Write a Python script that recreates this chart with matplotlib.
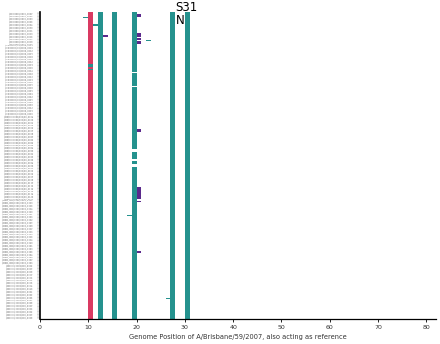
import matplotlib
matplotlib.use("Agg")
import matplotlib.pyplot as plt

# ---------------- data ----------------
n_seqs = 200
# label blocks: (number of rows, name prefix)
label_blocks = [
    (21, "A/Brisbane/5907"),
    (46, "A/California/07/2009"),
    (55, "A/Netherlands/602/20"),
    (42, "A/New_York/3236/2009"),
    (36, "A/Mexico/4108/200"),
]
seq_names = []
for count, prefix in label_blocks:
    for k in range(count):
        seq_names.append(f"{prefix}_{len(seq_names):04d}")

# positions present in every sequence, with their category
column_positions = [10, 12, 15, 19, 27, 30]
column_categories = ["red", "teal", "teal", "teal", "teal", "teal"]

# rows where the column at position 19 is missing
gap_rows_pos19 = [39, 48, 89, 90, 96, 99, 100]
# rows where position 10 is teal instead of red
teal_rows_pos10 = [34, 35, 37]

# extra single cells: rows, positions, categories
extra_rows = [3, 8, 18, 132, 186,
              1, 2, 15, 14, 15, 17, 19, 20, 76, 77,
              114, 115, 116, 117, 118, 119, 120, 121, 123, 156]
extra_positions = [9, 11, 22, 18, 26,
                   20, 20, 13, 20, 20, 20, 20, 20, 20, 20,
                   20, 20, 20, 20, 20, 20, 20, 20, 20, 20]
extra_categories = ["teal", "teal", "teal", "teal", "teal",
                    "purple", "purple", "purple", "purple", "purple", "purple",
                    "purple", "purple", "purple", "purple",
                    "purple", "purple", "purple", "purple", "purple", "purple",
                    "purple", "purple", "purple", "purple"]

x_ticks = [0, 10, 20, 30, 40, 50, 60, 70, 80]
annotation = "S31\nN"
annotation_pos = 28
x_label = "Genome Position of A/Brisbane/59/2007, also acting as reference"

palette = {"red": "#d93a62", "teal": "#25928e", "purple": "#5b2a8c"}

# ---------------- plot ----------------
fig = plt.figure(figsize=(4.4, 3.44), dpi=100)
ax = fig.add_axes([40 / 440, 25 / 344, 396 / 440, 307 / 344])

for pos, cat in zip(column_positions, column_categories):
    for r in range(n_seqs):
        if pos == 19 and r in gap_rows_pos19:
            continue
        c = cat
        if pos == 10 and r in teal_rows_pos10:
            c = "teal"
        ax.barh(r + 0.5, 1, left=pos, height=1, color=palette[c], linewidth=0)

for r, pos, cat in zip(extra_rows, extra_positions, extra_categories):
    ax.barh(r + 0.5, 1, left=pos, height=1, color=palette[cat], linewidth=0)

ax.set_xlim(0, 82)
ax.set_ylim(n_seqs, 0)
ax.set_yticks([r + 0.5 for r in range(n_seqs)])
ax.set_yticklabels(seq_names, fontsize=1.5, color="#707070")
ax.tick_params(axis="y", length=2.5, width=0.3, color="#999999", pad=2)
ax.set_xticks(x_ticks)
ax.tick_params(axis="x", labelsize=4.5, length=2.5, width=0.6, pad=2, labelcolor="#333333")
ax.set_xlabel(x_label, fontsize=4.8, color="#333333", labelpad=3)

for s in ["top", "right"]:
    ax.spines[s].set_visible(False)
ax.spines["left"].set_linewidth(1.2)
ax.spines["bottom"].set_linewidth(0.9)

fig.text((40 + annotation_pos * 4.84) / 440, 1 - 1 / 344, annotation,
         fontsize=8.5, ha="left", va="top", linespacing=1.05)

fig.savefig("out.png", dpi=100)
